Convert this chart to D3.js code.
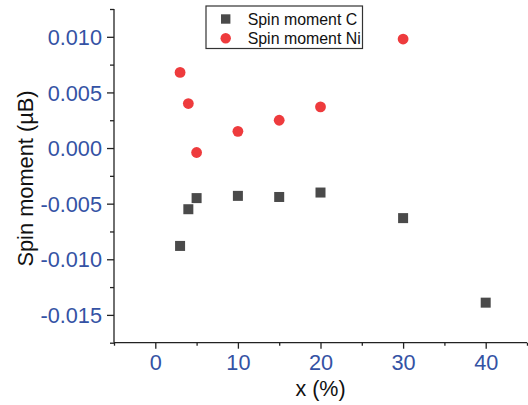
<!DOCTYPE html>
<html><head><meta charset="utf-8">
<script src="https://cdn.jsdelivr.net/npm/d3@7"></script>
<style>body{margin:0;background:#fff}svg{display:block}</style>
</head><body><svg id="c" width="528" height="405"></svg>
<script>
const xC = [3, 4, 5, 10, 15, 20, 30, 40];
const spinC = [-0.0088, -0.0055, -0.0045, -0.0043, -0.0044, -0.0040, -0.0063, -0.0139];
const xNi = [3, 4, 5, 10, 15, 20, 30];
const spinNi = [0.0068, 0.0040, -0.0004, 0.0015, 0.0025, 0.0037, 0.0098];
const xTicks = [0, 10, 20, 30, 40];
const yTicks = [0.010, 0.005, 0.000, -0.005, -0.010, -0.015];
const seriesNames = ["Spin moment C", "Spin moment Ni"];

const svg = d3.select("#c");
const x = d3.scaleLinear().domain([-5, 45]).range([114, 527]);
const y = d3.scaleLinear().domain([-0.0175, 0.0125]).range([342.7, 9]);
const blue = "#3452a4", axisCol = "#222", font = "'Liberation Sans', Arial, sans-serif";
const cCol = "#4a4a4a", niCol = "#ee3b3d";
const fmtY = d => d3.format(".3f")(d).replace("\u2212", "-");

// minor ticks
const xMinor = d3.range(-5, 46, 5).filter(v => v % 10 !== 0);
const yMinor = d3.range(-0.0175, 0.0126, 0.0025).filter(v => Math.abs(Math.round(v / 0.0025)) % 2 === 1);

const xAxis = svg.append("g").attr("transform", "translate(0,342.7)")
  .call(d3.axisBottom(x).tickValues(xTicks).tickSize(6).tickPadding(4).tickFormat(d3.format("d")));
xAxis.select(".domain").attr("d", `M114,0H527`);
svg.append("g").attr("transform", "translate(0,342.7)")
  .call(d3.axisBottom(x).tickValues(xMinor).tickSize(3).tickFormat(""))
  .select(".domain").remove();

const yAxis = svg.append("g").attr("transform", "translate(114,0)")
  .call(d3.axisLeft(y).tickValues(yTicks).tickSize(7).tickPadding(5).tickFormat(fmtY));
yAxis.select(".domain").attr("d", `M0,342.7V9`);
svg.append("g").attr("transform", "translate(114,0)")
  .call(d3.axisLeft(y).tickValues(yMinor).tickSize(4).tickFormat(""))
  .select(".domain").remove();

svg.selectAll(".domain, .tick line").attr("stroke", axisCol).attr("stroke-width", 1.3);
svg.selectAll(".tick text").attr("fill", blue).attr("font-family", font).attr("font-size", "21.7px");
xAxis.selectAll(".tick text").attr("dy", "0.71em").attr("y", 12);
yAxis.selectAll(".tick text").attr("x", -12).attr("dy", "0.35em");

// axis titles
svg.append("text").attr("x", 320.5).attr("y", 396).attr("text-anchor", "middle")
  .attr("font-family", font).attr("font-size", "21.5px").attr("fill", "#111").text("x (%)");
svg.append("text").attr("transform", "translate(33,178.5) rotate(-90)").attr("text-anchor", "middle")
  .attr("font-family", font).attr("font-size", "21.8px").attr("fill", "#111").text("Spin moment (µB)");

// data
const s = 10;
svg.append("g").selectAll("rect").data(xC.map((v, i) => [v, spinC[i]])).join("rect")
  .attr("x", d => x(d[0]) - s / 2).attr("y", d => y(d[1]) - s / 2)
  .attr("width", s).attr("height", s).attr("fill", cCol);
svg.append("g").selectAll("circle").data(xNi.map((v, i) => [v, spinNi[i]])).join("circle")
  .attr("cx", d => x(d[0])).attr("cy", d => y(d[1])).attr("r", 5.4).attr("fill", niCol);

// legend
const lg = svg.append("g");
lg.append("rect").attr("x", 206).attr("y", 6).attr("width", 156.5).attr("height", 42.5)
  .attr("fill", "#fff").attr("stroke", "#333").attr("stroke-width", 1.2);
lg.append("rect").attr("x", 225.7 - 4.7).attr("y", 19 - 4.7).attr("width", 9.4).attr("height", 9.4).attr("fill", cCol);
lg.append("circle").attr("cx", 225.7).attr("cy", 38.3).attr("r", 5.2).attr("fill", niCol);
seriesNames.forEach((n, i) => {
  lg.append("text").attr("x", 247.7).attr("y", 24.8 + i * 19.3).attr("font-family", font)
    .attr("font-size", "15.9px").attr("fill", "#111").text(n);
});
</script></body></html>
